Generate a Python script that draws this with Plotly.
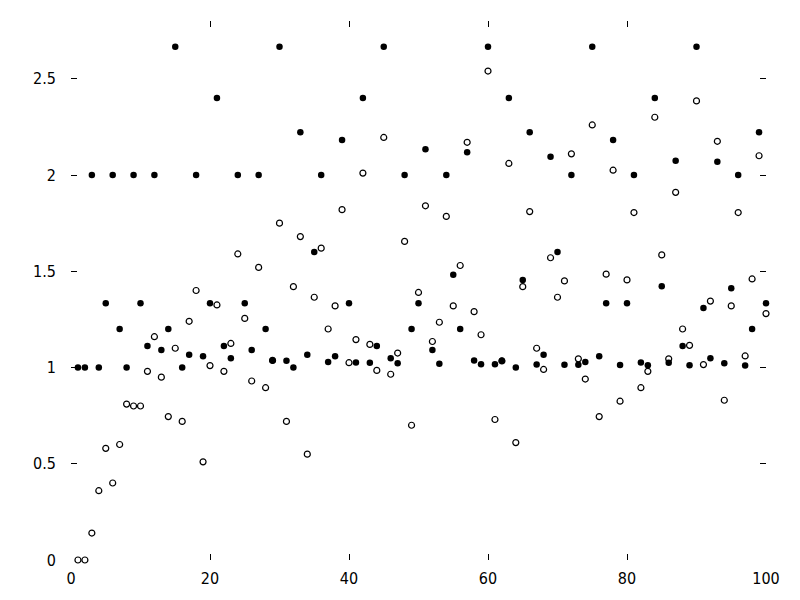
import plotly.graph_objects as go

n_values = list(range(1, 101))

# filled markers
series_filled = [
    1.0, 1.0, 2.0, 1.0, 1.3333, 2.0, 1.2, 1.0, 2.0, 1.3333,
    1.1111, 2.0, 1.0909, 1.2, 2.6667, 1.0, 1.0667, 2.0, 1.0588, 1.3333,
    2.4, 1.1111, 1.0476, 2.0, 1.3333, 1.0909, 2.0, 1.2, 1.037, 2.6667,
    1.0345, 1.0, 2.2222, 1.0667, 1.6, 2.0, 1.0286, 1.0588, 2.1818, 1.3333,
    1.0256, 2.4, 1.0244, 1.1111, 2.6667, 1.0476, 1.0222, 2.0, 1.2, 1.3333,
    2.1333, 1.0909, 1.0196, 2.0, 1.4815, 1.2, 2.1176, 1.037, 1.0175, 2.6667,
    1.0169, 1.0345, 2.4, 1.0, 1.4545, 2.2222, 1.0154, 1.0667, 2.0952, 1.6,
    1.0145, 2.0, 1.0141, 1.0286, 2.6667, 1.0588, 1.3333, 2.1818, 1.013, 1.3333,
    2.0, 1.0256, 1.0123, 2.4, 1.4222, 1.0244, 2.0741, 1.1111, 1.0115, 2.6667,
    1.3091, 1.0476, 2.069, 1.0222, 1.4118, 2.0, 1.0105, 1.2, 2.2222, 1.3333,
]

# open circles
series_open = [
    0.0, 0.0, 0.14, 0.36, 0.58, 0.40, 0.60, 0.81, 0.80, 0.80,
    0.98, 1.16, 0.95, 0.745, 1.10, 0.72, 1.24, 1.40, 0.51, 1.01,
    1.325, 0.98, 1.125, 1.59, 1.255, 0.93, 1.52, 0.895, 1.037, 1.75,
    0.72, 1.42, 1.68, 0.55, 1.365, 1.62, 1.20, 1.32, 1.82, 1.025,
    1.145, 2.01, 1.12, 0.985, 2.195, 0.965, 1.075, 1.655, 0.70, 1.39,
    1.84, 1.135, 1.235, 1.785, 1.32, 1.53, 2.17, 1.29, 1.17, 2.54,
    0.73, 1.034, 2.06, 0.61, 1.42, 1.81, 1.10, 0.99, 1.57, 1.365,
    1.45, 2.11, 1.045, 0.94, 2.26, 0.745, 1.485, 2.025, 0.825, 1.455,
    1.805, 0.895, 0.98, 2.30, 1.585, 1.045, 1.91, 1.20, 1.115, 2.385,
    1.015, 1.345, 2.175, 0.83, 1.32, 1.805, 1.06, 1.46, 2.10, 1.28,
]

y_tick_vals = [0, 0.5, 1, 1.5, 2, 2.5]
y_tick_text = ["0", "0.5", "1", "1.5", "2", "2.5"]
x_tick_vals = [0, 20, 40, 60, 80, 100]
x_tick_text = ["0", "20", "40", "60", "80", "100"]

fig = go.Figure()
fig.add_trace(go.Scatter(
    x=n_values, y=series_open, mode="markers",
    marker=dict(symbol="circle-open", size=6, color="black", line=dict(width=1.2, color="black")),
    showlegend=False, cliponaxis=False,
))
fig.add_trace(go.Scatter(
    x=n_values, y=series_filled, mode="markers",
    marker=dict(symbol="circle", size=6.5, color="black"),
    showlegend=False, cliponaxis=False,
))

font_family = "DejaVu Sans Condensed, DejaVu Sans, sans-serif"

# page body has an 8px margin, so the figure is 792x592 and offsets are compensated
fig.update_layout(
    width=792, height=592,
    margin=dict(l=63, r=34, t=13, b=40, autoexpand=False),
    paper_bgcolor="white", plot_bgcolor="white",
    font=dict(family=font_family, size=16, color="black"),
    xaxis=dict(
        range=[0, 100], tickvals=x_tick_vals, ticktext=x_tick_text,
        ticks="inside", ticklen=6, tickwidth=1, tickcolor="black",
        mirror="ticks", showline=False, showgrid=False, zeroline=False,
        ticklabelstandoff=7,
    ),
    yaxis=dict(
        range=[0, 2.8], tickvals=y_tick_vals, ticktext=y_tick_text,
        ticks="inside", ticklen=6, tickwidth=1, tickcolor="black",
        mirror="ticks", showline=False, showgrid=False, zeroline=False,
        ticklabelstandoff=14,
    ),
)

fig.write_html("out.html")
